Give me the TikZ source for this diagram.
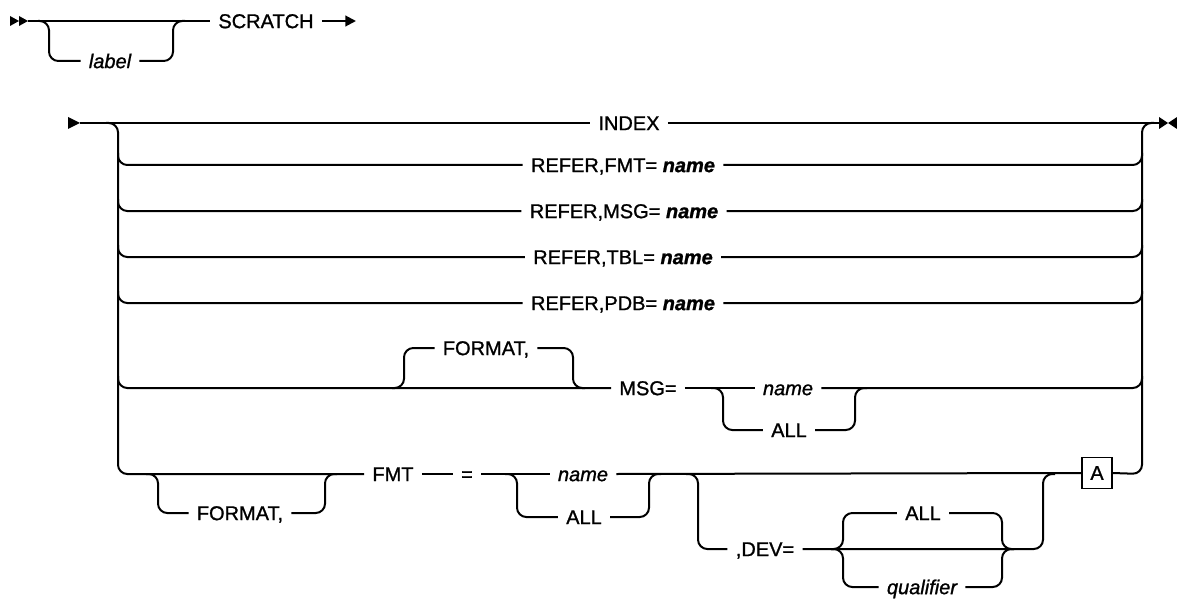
\documentclass[tikz,border=0pt]{standalone}
\usepackage{fontspec}
\setmainfont{Liberation Sans}
\newfontfamily\medfont{Liberation Sans}[FakeBold=1.1]
\usetikzlibrary{arrows.meta}
\begin{document}
\begin{tikzpicture}[x=0.75pt,y=-0.75pt, line width=1.5pt,
  rr/.style={rounded corners=7pt},
  t/.style={font=\medfont\fontsize{15}{16}\selectfont, text height=10.7pt, text depth=0pt, inner ysep=0pt, inner xsep=5.5pt},
  it/.style={t, font=\medfont\fontsize{15}{16}\selectfont\itshape},
  boxed/.style={draw, line width=1.1pt, font=\medfont\fontsize{15}{16}\selectfont, minimum width=22.5pt, minimum height=23pt, inner sep=0pt}]
\useasboundingbox (0,0) rectangle (1177,599);

% ---------- first part ----------
\node[t] (scratch) at (266,21) {SCRATCH};
\node[it] (label) at (110,61) {label};
\fill (10,16) -- (19,21) -- (10,26) -- cycle;
\fill (19,16) -- (28,21) -- (19,26) -- cycle;
\coordinate (s0) at (28,21);
\draw (s0) -- (scratch.west);
\draw[rr] (38,21) -- (49,21) -- (49,61) -- (label.west);
\draw[rr] (label.east) -- (173,61) -- (173,21) -- (185,21);
\coordinate (s1) at (356,21);
\draw[-{Triangle[length=8pt,width=8pt]}] (scratch.east) -- (s1);

% ---------- second part: nodes ----------
\node[t] (index) at (629,123) {INDEX};
\node[t] (r1) at (623,165) {REFER,FMT= \textbf{\textit{name}}};
\node[t] (r2) at (624,211) {REFER,MSG= \textbf{\textit{name}}};
\node[t] (r3) at (623,257) {REFER,TBL= \textbf{\textit{name}}};
\node[t] (r4) at (623,303) {REFER,PDB= \textbf{\textit{name}}};
\node[t] (fmtA) at (486,348) {FORMAT,};
\node[t] (msg) at (648,388) {MSG=};
\node[it] (nameA) at (788,388) {name};
\node[t] (allA) at (789,430) {ALL};
\node[t] (fmtB) at (240,513) {FORMAT,};
\node[t] (fmt) at (393,474) {FMT};
\node[t] (eq) at (467,474) {=};
\node[it] (nameB) at (583,474) {name};
\node[t] (allB) at (584,517) {ALL};
\node[t] (dev) at (765,549) {,DEV=};
\node[t] (allC) at (923,513) {ALL};
\node[it] (qual) at (922,587) {qualifier};
\node[boxed] (boxA) at (1097,473) {A};

% start / end marks
\fill (68,117) -- (80,123) -- (68,129) -- cycle;
\fill (1159,117) -- (1168,123) -- (1159,129) -- cycle;
\fill (1177,117) -- (1168,123) -- (1177,129) -- cycle;
\coordinate (m0) at (80,123);
\coordinate (m1) at (1160,123);
\draw (m0) -- (index.west);
\draw (index.east) -- (m1);

% rails
\draw[rr] (106,123) -- (118,123) -- (118,474) -- (fmt.west);
\draw[rr] (boxA.east) -- (1142,474) -- (1142,123) -- (1154,123);

% REFER rows
\draw[rr] (118,153) -- (118,165) -- (r1.west);
\draw[rr] (r1.east) -- (1142,165) -- (1142,153);
\draw[rr] (118,199) -- (118,211) -- (r2.west);
\draw[rr] (r2.east) -- (1142,211) -- (1142,199);
\draw[rr] (118,245) -- (118,257) -- (r3.west);
\draw[rr] (r3.east) -- (1142,257) -- (1142,245);
\draw[rr] (118,291) -- (118,303) -- (r4.west);
\draw[rr] (r4.east) -- (1142,303) -- (1142,291);

% MSG row
\draw[rr] (118,376) -- (118,388) -- (msg.west);
\draw[rr] (392,388) -- (404,388) -- (404,348) -- (fmtA.west);
\draw[rr] (fmtA.east) -- (573,348) -- (573,388) -- (585,388);
\draw (msg.east) -- (nameA.west);
\draw[rr] (711,388) -- (723,388) -- (723,430) -- (allA.west);
\draw[rr] (allA.east) -- (855,430) -- (855,388) -- (867,388);
\draw[rr] (nameA.east) -- (1142,388) -- (1142,376);

% FMT row
\draw[rr] (146,474) -- (158,474) -- (158,513) -- (fmtB.west);
\draw[rr] (fmtB.east) -- (325,513) -- (325,474) -- (337,474);
\draw (fmt.east) -- (eq.west);
\draw (eq.east) -- (nameB.west);
\draw[rr] (505,474) -- (517,474) -- (517,517) -- (allB.west);
\draw[rr] (allB.east) -- (649,517) -- (649,474) -- (661,474);
\draw (nameB.east) -- (boxA.west);
\draw[rr] (686,474) -- (698,474) -- (698,549) -- (dev.west);
\draw[rr] (dev.east) -- (1043,549) -- (1043,474) -- (1055,474);
\draw[rr] (831,549) -- (843,549) -- (843,513) -- (allC.west);
\draw[rr] (831,549) -- (843,549) -- (843,587) -- (qual.west);
\draw[rr] (allC.east) -- (1002,513) -- (1002,549) -- (1014,549);
\draw[rr] (qual.east) -- (1002,587) -- (1002,549) -- (1014,549);
\end{tikzpicture}
\end{document}
